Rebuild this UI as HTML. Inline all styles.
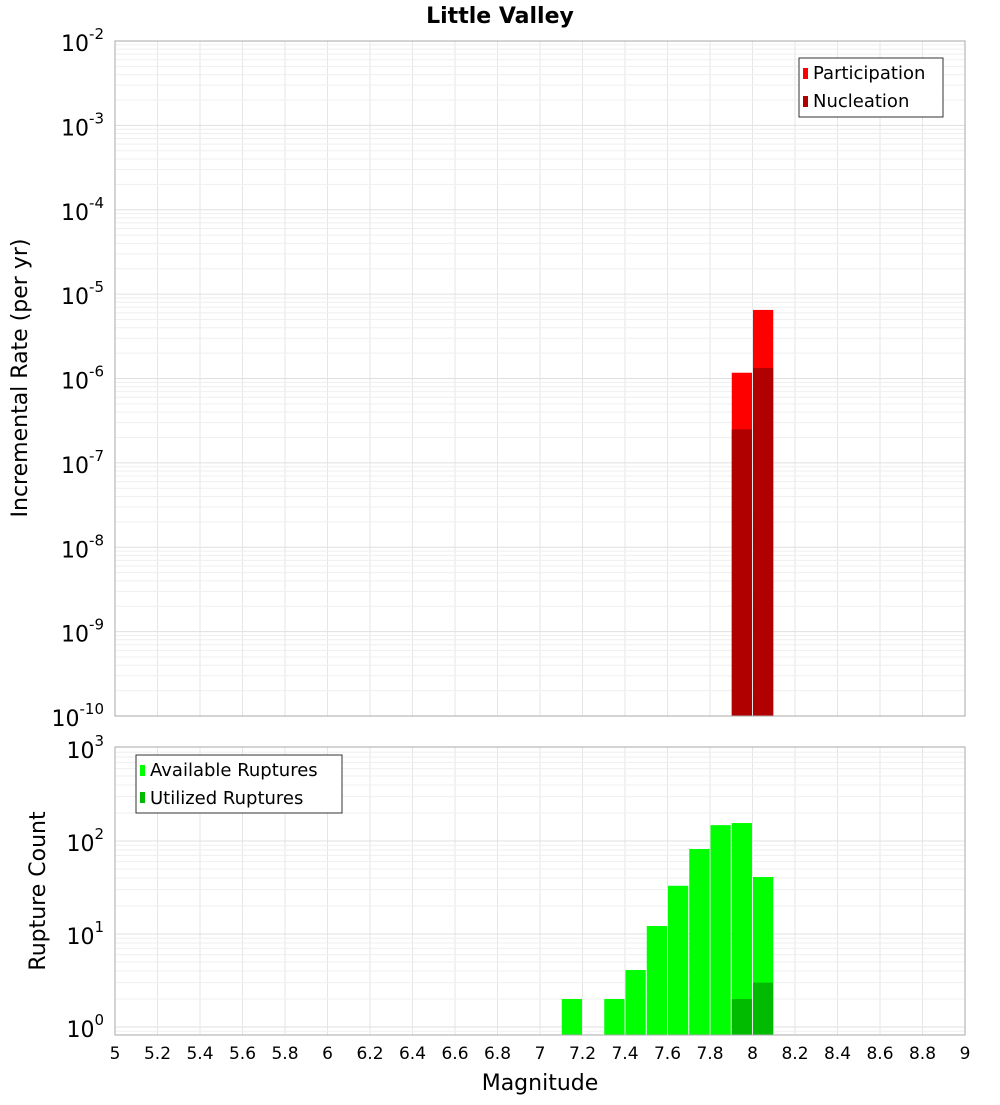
<!DOCTYPE html>
<html><head><meta charset="utf-8"><style>
html,body{margin:0;padding:0;background:#fff;}
svg text{font-family:"DejaVu Sans","Liberation Sans",sans-serif;}
</style></head><body>
<svg id="chart" width="1000" height="1100" xmlns="http://www.w3.org/2000/svg"></svg>
<script>
const magBins=[7.15,7.25,7.35,7.45,7.55,7.65,7.75,7.85,7.95,8.05];
const participation=[0,0,0,0,0,0,0,0,1.17e-6,6.5e-6];
const nucleation=[0,0,0,0,0,0,0,0,2.5e-7,1.33e-6];
const available=[2,0,2,4.1,12.2,33,82,148,156,41];
const utilized=[0,0,0,0,0,0,0,0,2,3];
const xTicks=["5","5.2","5.4","5.6","5.8","6","6.2","6.4","6.6","6.8","7","7.2","7.4","7.6","7.8","8","8.2","8.4","8.6","8.8","9"];
const topExps=[-2,-3,-4,-5,-6,-7,-8,-9,-10];
const botExps=[3,2,1,0];

const NS="http://www.w3.org/2000/svg";
const svg=document.getElementById('chart');
const L=115,R=965;
const x=m=>L+(m-5)*(R-L)/4;
const T0=41,T1=716;
const yTop=v=>T0+(-2-Math.log10(v))*(T1-T0)/8;
const B0=747,B1=1035;
const yBot=v=>1027-93*Math.log10(v);
function el(tag,attrs,name,txt){const e=document.createElementNS(NS,tag);for(const k in attrs)e.setAttribute(k,attrs[k]);


if(txt!==undefined)e.textContent=txt;svg.appendChild(e);return e;}

// grids
function grid(y0,y1,yfn,emin,emax,nm){
  for(let i=0;i<=20;i++){const xx=x(5+i*0.2);el('line',{x1:xx,x2:xx,y1:y0,y2:y1,stroke:'#e6e6e6','stroke-width':1},nm+'-vgrid');}
  for(let e=emin;e<=emax;e++){for(let k=1;k<10;k++){const yy=yfn(k*Math.pow(10,e));if(yy<y0||yy>y1)continue;
    el('line',{x1:L,x2:R,y1:yy,y2:yy,stroke:k==1?'#e0e0e0':'#efefef','stroke-width':1},nm+'-hgrid');}}
}
grid(T0,T1,yTop,-10,-3,'top');
grid(B0,B1,yBot,-1,2,'bottom');
el('line',{x1:L,x2:R,y1:T0,y2:T0,stroke:'#e0e0e0'},'top-hgrid');

// top bars
const bw=(R-L)/40;
magBins.forEach((m,i)=>{
  if(participation[i]>0)el('rect',{x:x(m)-bw/2+0.5,y:yTop(participation[i]),width:bw-1,height:T1-yTop(participation[i]),fill:'#ff0000'},'participation-bar');
  if(nucleation[i]>0)el('rect',{x:x(m)-bw/2+0.5,y:yTop(nucleation[i]),width:bw-1,height:T1-yTop(nucleation[i]),fill:'#b00000'},'nucleation-bar');
  if(available[i]>0)el('rect',{x:x(m)-bw/2+0.5,y:yBot(available[i]),width:bw-1,height:B1-yBot(available[i]),fill:'#00ff00'},'available-bar');
  if(utilized[i]>0)el('rect',{x:x(m)-bw/2+0.5,y:yBot(utilized[i]),width:bw-1,height:B1-yBot(utilized[i]),fill:'#00bb00'},'utilized-bar');
});

// frames
el('rect',{x:L,y:T0,width:R-L,height:T1-T0,fill:'none',stroke:'#aaa'},'top-plot-frame');
el('rect',{x:L,y:B0,width:R-L,height:B1-B0,fill:'none',stroke:'#aaa'},'bottom-plot-frame');

// y tick labels
topExps.forEach(e=>{const t=el('text',{x:104,y:yTop(Math.pow(10,e))+10,'text-anchor':'end','font-size':22,fill:'#000'},'top-y-tick','10');
  const s=document.createElementNS(NS,'tspan');s.setAttribute('dy','-12');s.setAttribute('font-size','15');s.textContent=String(e);t.appendChild(s);});
botExps.forEach(e=>{const t=el('text',{x:104,y:yBot(Math.pow(10,e))+10,'text-anchor':'end','font-size':22,fill:'#000'},'bottom-y-tick','10');
  const s=document.createElementNS(NS,'tspan');s.setAttribute('dy','-12');s.setAttribute('font-size','15');s.textContent=String(e);t.appendChild(s);});
// x ticks
xTicks.forEach(t=>el('text',{x:x(parseFloat(t)),y:1059,'text-anchor':'middle','font-size':17,fill:'#000'},'x-tick',t));

el('text',{x:500,y:23,'text-anchor':'middle','font-size':22,'font-weight':'bold'},'chart-title','Little Valley');
el('text',{x:540,y:1090,'text-anchor':'middle','font-size':22},'x-axis-title','Magnitude');
el('text',{x:27,y:378,'text-anchor':'middle','font-size':22,transform:'rotate(-90 27 378)'},'top-y-axis-title','Incremental Rate (per yr)');
el('text',{x:45,y:891,'text-anchor':'middle','font-size':22,transform:'rotate(-90 45 891)'},'bottom-y-axis-title','Rupture Count');

// legends
el('rect',{x:799,y:58,width:144,height:59,fill:'#fff',stroke:'#333'},'top-legend');
el('rect',{x:803,y:68,width:5,height:11,fill:'#ff0000'},'participation-swatch');
el('text',{x:813,y:79,'font-size':18},'participation-legend-label','Participation');
el('rect',{x:803,y:96,width:5,height:11,fill:'#b00000'},'nucleation-swatch');
el('text',{x:813,y:107,'font-size':18},'nucleation-legend-label','Nucleation');
el('rect',{x:136,y:755,width:206,height:58,fill:'#fff',stroke:'#333'},'bottom-legend');
el('rect',{x:140,y:765,width:5,height:11,fill:'#00ff00'},'available-swatch');
el('text',{x:150,y:776,'font-size':18},'available-legend-label','Available Ruptures');
el('rect',{x:140,y:792,width:5,height:11,fill:'#00bb00'},'utilized-swatch');
el('text',{x:150,y:804,'font-size':18},'utilized-legend-label','Utilized Ruptures');
</script>
</body></html>
